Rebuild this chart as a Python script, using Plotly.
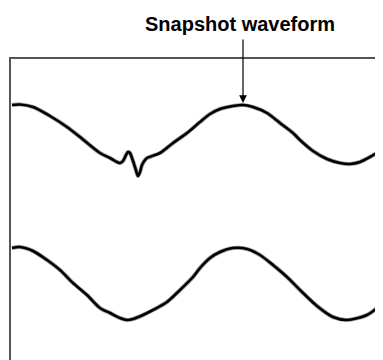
import plotly.graph_objects as go

# Sample positions (time axis) and signal levels
snap_t = [12, 20, 33, 50, 67, 80, 100, 110, 117, 120, 123, 126, 128, 130, 132, 135,
          138, 140, 142, 145, 147, 160, 173, 187, 200, 210, 220, 233, 243, 253, 267,
          280, 293, 300, 313, 327, 340, 350, 360, 370, 383]
snap_v = [105, 104.5, 107, 116, 127, 137, 153, 158, 162, 163, 161, 155, 152, 153, 158, 167,
          176, 172, 165, 160, 158, 153, 143, 133, 122, 114, 109, 106, 105, 107, 113,
          123, 133, 140, 151, 159, 163, 164, 162, 157, 149]

ref_t = [12, 20, 33, 47, 60, 73, 87, 100, 110, 120, 127, 133, 143, 153, 167, 180,
         193, 200, 210, 220, 233, 247, 260, 273, 287, 300, 317, 333, 347, 367, 383]
ref_v = [248, 247, 251, 260, 270, 283, 295, 308, 313, 318, 320, 319, 315, 310, 302, 290,
         277, 268, 258, 252, 248, 249, 255, 265, 277, 290, 306, 317, 320, 315, 303]

title_text = "Snapshot waveform"
arrow_t, arrow_v = 243, 103

fig = go.Figure()
for tt, vv in ((snap_t, snap_v), (ref_t, ref_v)):
    fig.add_trace(go.Scatter(x=tt, y=vv, mode="lines",
                             line=dict(color="#a0a0a0", width=4.2, shape="spline", smoothing=0.8),
                             hoverinfo="skip", showlegend=False))
    fig.add_trace(go.Scatter(x=tt, y=vv, mode="lines",
                             line=dict(color="black", width=2.6, shape="spline", smoothing=0.8),
                             hoverinfo="skip", showlegend=False))

fig.add_annotation(x=arrow_t, y=arrow_v, xref="x", yref="y", text="",
                   showarrow=True, ax=0, ay=-65, arrowhead=2, arrowsize=1.3,
                   arrowwidth=1.2, arrowcolor="black")
fig.add_annotation(x=(240 - 11) / 372, y=(360 - 24) / 301, xref="paper", yref="paper",
                   text="<b>" + title_text + "</b>",
                   showarrow=False, xanchor="center", yanchor="middle",
                   font=dict(family="Liberation Sans, Arial, sans-serif", size=20, color="black"))

# page body has an 8px default margin, so the figure is sized to fit the window
fig.update_layout(
    width=375, height=352,
    margin=dict(l=3, r=0, t=51, b=0, autoexpand=False),
    paper_bgcolor="white", plot_bgcolor="white",
    xaxis=dict(range=[11, 383], side="top", showline=True, linecolor="#555", linewidth=1.5,
               showgrid=False, zeroline=False, showticklabels=False, ticks=""),
    yaxis=dict(range=[360, 59], showline=True, linecolor="#555", linewidth=1.5,
               showgrid=False, zeroline=False, showticklabels=False, ticks=""),
)

fig.write_html("out.html")
